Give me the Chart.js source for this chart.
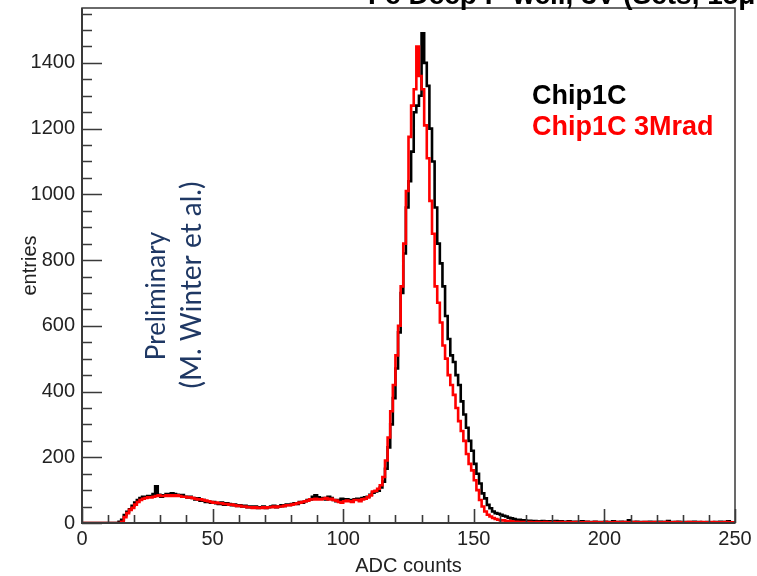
<!DOCTYPE html>
<html>
<head>
<meta charset="utf-8">
<script src="https://cdn.jsdelivr.net/npm/chart.js@4.4.1/dist/chart.umd.min.js"></script>
<style>
  html, body { margin: 0; padding: 0; background: #fff; }
  #histo { display: block; }
</style>
</head>
<body>
<canvas id="histo" width="757" height="576"></canvas>
<script>
// ADC histogram, one bin per ADC count (0..249)
var chip1c = [
    0, 0, 0, 0, 0, 0, 0, 0, 0, 0,
    0, 0, 0, 0, 0, 4, 10, 24, 34, 42,
    52, 62, 70, 76, 80, 78, 82, 80, 88, 112,
    86, 80, 84, 88, 86, 90, 88, 86, 84, 85,
    80, 78, 80, 76, 72, 75, 68, 70, 64, 66,
    62, 64, 60, 58, 62, 56, 60, 58, 54, 56,
    52, 54, 50, 52, 48, 50, 47, 50, 46, 48,
    50, 46, 48, 50, 52, 48, 50, 54, 52, 56,
    55, 58, 60, 58, 64, 62, 66, 70, 72, 80,
    84, 78, 74, 76, 72, 80, 76, 70, 66, 70,
    74, 68, 72, 70, 66, 72, 74, 70, 76, 78,
    80, 86, 92, 96, 98, 108, 126, 165, 230, 300,
    380, 470, 580, 700, 820, 960, 1040, 1130, 1250, 1270,
    1300, 1490, 1400, 1330, 1200, 1100, 960, 850, 790, 720,
    630, 560, 510, 490, 450, 420, 370, 330, 290, 250,
    220, 180, 150, 120, 90, 75, 55, 45, 35, 30,
    28, 25, 22, 20, 16, 14, 12, 10, 10, 8,
    8, 6, 7, 5, 6, 5, 4, 6, 5, 4,
    5, 4, 6, 3, 5, 4, 3, 5, 4, 3,
    4, 3, 5, 3, 4, 2, 3, 4, 3, 2,
    3, 4, 2, 3, 5, 2, 3, 4, 2, 3,
    8, 3, 2, 4, 3, 2, 3, 2, 4, 2,
    3, 2, 4, 2, 3, 6, 2, 3, 2, 4,
    2, 3, 2, 3, 2, 4, 2, 3, 2, 2,
    3, 2, 2, 3, 2, 4, 2, 3, 5, 2
];
var chip1c3mrad = [
    0, 0, 0, 0, 0, 0, 0, 0, 0, 0,
    0, 0, 0, 0, 0, 0, 4, 18, 30, 40,
    46, 56, 64, 70, 74, 76, 78, 78, 80, 82,
    84, 82, 82, 84, 82, 84, 82, 84, 82, 80,
    80, 78, 78, 76, 74, 72, 72, 70, 68, 66,
    64, 62, 62, 60, 60, 58, 58, 56, 56, 54,
    52, 52, 50, 50, 48, 48, 46, 48, 46, 46,
    48, 46, 48, 48, 50, 48, 50, 50, 52, 54,
    54, 56, 58, 60, 62, 64, 66, 68, 72, 72,
    74, 72, 72, 74, 76, 72, 74, 70, 68, 64,
    62, 66, 68, 66, 64, 70, 70, 66, 72, 74,
    78, 84, 96, 98, 104, 115, 140, 190, 260, 340,
    420, 510, 600, 720, 850, 1010, 1175, 1270, 1320, 1450,
    1360, 1320, 1210, 1110, 980, 880, 720, 670, 610, 540,
    500, 450, 420, 390, 350, 310, 280, 250, 210, 180,
    160, 130, 100, 70, 50, 35, 25, 20, 15, 12,
    10, 8, 8, 6, 6, 5, 4, 4, 3, 3,
    3, 2, 3, 2, 2, 3, 2, 2, 3, 2,
    2, 3, 2, 2, 3, 2, 2, 3, 2, 2,
    3, 2, 2, 2, 3, 2, 2, 3, 2, 2,
    2, 3, 2, 2, 2, 3, 2, 2, 3, 2,
    2, 2, 3, 2, 2, 2, 3, 2, 2, 2,
    3, 2, 2, 2, 3, 2, 2, 2, 3, 2,
    2, 2, 2, 3, 2, 2, 2, 2, 3, 2,
    2, 2, 3, 2, 2, 2, 2, 3, 2, 2
];
var xTicks = [0, 50, 100, 150, 200, 250];
var yTicks = [0, 200, 400, 600, 800, 1000, 1200, 1400];
var xMin = 0, xMax = 250, xMinor = 10;
var yMin = 0, yMax = 1567, yMinor = 50;
var seriesNames = ['Chip1C', 'Chip1C 3Mrad'];
var titleText = 'Fe Deep P-well, 3V (Sets, 15\u03bcm pitch)';
var noteLines = ['Preliminary', '(M. Winter et al.)'];

// histogram outline: each bin value held from its low edge to the next one
function toSteps(vals) {
    var pts = vals.map(function (v, i) { return { x: i, y: v }; });
    pts.push({ x: vals.length, y: vals[vals.length - 1] });
    return pts;
}

var axisFont = { family: 'Liberation Sans, Arial, sans-serif', size: 20 };

// ROOT style frame, inward ticks and the latex texts
var rootFrame = {
    id: 'rootFrame',
    afterDraw: function (chart) {
        var ctx = chart.ctx;
        var a = chart.chartArea;
        var xs = chart.scales.x, ys = chart.scales.y;
        ctx.save();
        ctx.strokeStyle = '#3a3a3a';
        ctx.lineWidth = 1.5;
        ctx.strokeRect(a.left, a.top, a.right - a.left, a.bottom - a.top);
        ctx.lineWidth = 2;
        ctx.beginPath();
        ctx.moveTo(a.left, a.top); ctx.lineTo(a.left, a.bottom); ctx.lineTo(a.right, a.bottom);
        ctx.stroke();

        ctx.lineWidth = 1.6;
        ctx.beginPath();
        for (var v = xMin; v <= xMax; v += xMinor) {
            var px = Math.round(xs.getPixelForValue(v)) + 0.5;
            var len = v % 50 === 0 ? 14 : 8;
            ctx.moveTo(px, a.bottom); ctx.lineTo(px, a.bottom - len);
        }
        for (var w = yMin; w <= yMax; w += yMinor) {
            var py = Math.round(ys.getPixelForValue(w)) + 0.5;
            var l2 = w % 200 === 0 ? 20 : 10;
            ctx.moveTo(a.left, py); ctx.lineTo(a.left + l2, py);
        }
        ctx.stroke();

        // legend texts
        ctx.font = 'bold 27px "Liberation Sans", Arial, sans-serif';
        ctx.textAlign = 'left';
        ctx.textBaseline = 'alphabetic';
        ctx.fillStyle = '#000';
        ctx.fillText(seriesNames[0], 532, 104);
        ctx.fillStyle = '#ff0000';
        ctx.fillText(seriesNames[1], 532, 135);

        // title, mostly cut by the top of the picture
        ctx.fillStyle = '#000';
        ctx.font = 'bold 28px "Liberation Sans", Arial, sans-serif';
        ctx.fillText(titleText, 368, 4);

        // rotated note
        ctx.fillStyle = '#1f3864';
        ctx.textAlign = 'center';
        ctx.textBaseline = 'middle';
        ctx.translate(157, 296);
        ctx.rotate(-Math.PI / 2);
        ctx.font = '26px Lato, "Open Sans", sans-serif';
        ctx.fillText(noteLines[0], 0, 0);
        ctx.rotate(Math.PI / 2);
        ctx.translate(35, -11);
        ctx.rotate(-Math.PI / 2);
        ctx.font = '28px Lato, "Open Sans", sans-serif';
        ctx.fillText(noteLines[1], 0, 0);
        ctx.restore();
    }
};

var ctx = document.getElementById('histo').getContext('2d');
new Chart(ctx, {
    type: 'line',
    data: {
        datasets: [{
            label: seriesNames[0],
            data: toSteps(chip1c),
            borderColor: '#000000',
            borderWidth: 2.6,
            stepped: 'after',
            pointRadius: 0,
            fill: false,
            order: 2
        }, {
            label: seriesNames[1],
            data: toSteps(chip1c3mrad),
            borderColor: '#ff0000',
            borderWidth: 2.6,
            stepped: 'after',
            pointRadius: 0,
            fill: false,
            order: 1
        }]
    },
    options: {
        responsive: false,
        animation: false,
        events: [],
        layout: { padding: { left: 0, right: 22, top: 8, bottom: 0 } },
        plugins: {
            legend: { display: false },
            tooltip: { enabled: false }
        },
        scales: {
            x: {
                type: 'linear',
                min: xMin,
                max: xMax,
                grid: { display: false, drawTicks: false },
                border: { display: false },
                afterBuildTicks: function (s) { s.ticks = xTicks.map(function (v) { return { value: v }; }); },
                ticks: { maxRotation: 0, padding: 4, color: '#222', font: axisFont,
                    callback: function (v) { return String(v); } },
                title: { display: true, text: 'ADC counts', color: '#222', font: axisFont, padding: { top: 0, bottom: -2 } },
                afterFit: function (s) { s.height = 53; s.paddingLeft = 0; s.paddingRight = 0; }
            },
            y: {
                min: yMin,
                max: yMax,
                grid: { display: false, drawTicks: false },
                border: { display: false },
                afterBuildTicks: function (s) { s.ticks = yTicks.map(function (v) { return { value: v }; }); },
                ticks: { padding: 7, color: '#222', font: axisFont,
                    callback: function (v) { return String(v); } },
                title: { display: true, text: 'entries', color: '#222', font: axisFont, padding: { top: 18, bottom: 0 } },
                afterFit: function (s) { s.width = 82; s.paddingTop = 0; s.paddingBottom = 0; }
            }
        }
    },
    plugins: [rootFrame]
});
</script>
</body>
</html>
